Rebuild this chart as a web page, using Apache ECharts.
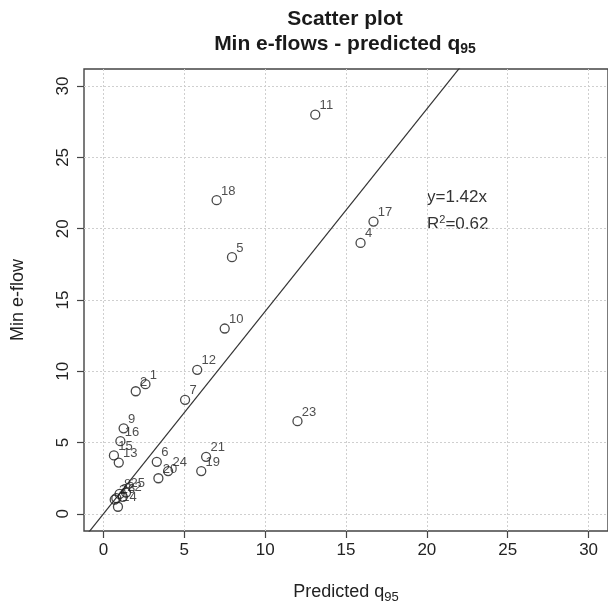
<!DOCTYPE html>
<html>
<head>
<meta charset="utf-8">
<title>Scatter plot</title>
<script src="https://cdn.jsdelivr.net/npm/echarts@6/dist/echarts.min.js"></script>
<style>
  html, body { margin: 0; padding: 0; background: #fff; }
  #chart { width: 608px; height: 611px; }
</style>
</head>
<body>
<div id="chart"></div>
<script>
// site numbers, predicted q95 (x) and min e-flow (y)
const siteIds = ['1', '2', '3', '4', '5', '6', '7', '8', '9', '10', '11', '12', '13',
  '14', '15', '16', '17', '18', '19', '20', '21', '22', '23', '24', '25', '26']
const predictedQ95 = [2.6, 2.0, 0.7, 15.9, 7.95, 3.3, 5.05, 1.0, 1.25, 7.5, 13.1, 5.8, 0.95,
  0.9, 0.65, 1.05, 16.7, 7.0, 6.05, 3.4, 6.35, 1.2, 12.0, 4.0, 1.4, 0.8]
const minEflow = [9.1, 8.6, 1.0, 19.0, 18.0, 3.65, 8.0, 1.4, 6.0, 13.0, 28.0, 10.1, 3.6,
  0.5, 4.1, 5.1, 20.5, 22.0, 3.0, 2.5, 4.0, 1.2, 6.5, 3.0, 1.5, 1.1]
const tickValues = [0, 5, 10, 15, 20, 25, 30]

// fitted line through the origin
const slope = 1.42
const rSquared = 0.62

const axisMin = -1.2
const axisMax = 31.2

const textColor = '#222'
const fontFamily = 'Liberation Sans, Arial, sans-serif'

const points = predictedQ95.map((x, i) => ({ value: [x, minEflow[i]], name: siteIds[i] }))
const fitLine = [[axisMin, slope * axisMin], [axisMax, slope * axisMax]]

const chart = echarts.init(document.getElementById('chart'))

function axisStyle(isY) {
  return {
    type: 'value',
    min: axisMin,
    max: axisMax,
    axisLine: { show: false, onZero: false },
    axisTick: {
      show: true,
      length: 7,
      customValues: tickValues,
      lineStyle: { color: '#444', width: 1.2 }
    },
    axisLabel: {
      customValues: tickValues,
      color: textColor,
      fontSize: 17,
      fontFamily: fontFamily,
      margin: isY ? 12 : 11,
      rotate: isY ? 90 : 0
    },
    splitLine: {
      show: true,
      lineStyle: { color: '#cfcfcf', type: [2, 2], width: 1 }
    }
  }
}

chart.setOption({
  backgroundColor: '#fff',
  animation: false,
  title: {
    text: '{t|Scatter plot}\n{t|Min e-flows - predicted q}{s|95}',
    left: 340,
    top: 2,
    textAlign: 'center',
    textStyle: {
      rich: {
        t: { fontSize: 21, fontWeight: 'bold', color: '#1a1a1a', fontFamily: fontFamily, lineHeight: 25, align: 'center' },
        s: { fontSize: 14, fontWeight: 'bold', color: '#1a1a1a', fontFamily: fontFamily, lineHeight: 25, padding: [10, 0, 0, 0] }
      }
    }
  },
  grid: {
    left: 84,
    top: 69,
    width: 526,
    height: 462,
    show: true,
    borderColor: '#444',
    borderWidth: 1.4,
    backgroundColor: 'transparent'
  },
  xAxis: Object.assign(axisStyle(false), {
    name: '{n|Predicted q}{s|95}',
    nameLocation: 'middle',
    nameGap: 50,
    nameTextStyle: {
      rich: {
        n: { fontSize: 18, color: textColor, fontFamily: fontFamily },
        s: { fontSize: 13, color: textColor, fontFamily: fontFamily, padding: [10, 0, 0, 0] }
      }
    }
  }),
  yAxis: Object.assign(axisStyle(true), {
    name: 'Min e-flow',
    nameLocation: 'middle',
    nameGap: 57,
    nameTextStyle: { fontSize: 18, color: textColor, fontFamily: fontFamily }
  }),
  graphic: [
    {
      type: 'text',
      left: 427,
      top: 189,
      style: { text: 'y=' + slope.toFixed(2) + 'x', fill: '#333', font: '17px ' + fontFamily }
    },
    {
      type: 'text',
      left: 427,
      top: 214,
      style: {
        text: '{n|R}{p|2}{n|=' + rSquared.toFixed(2) + '}',
        rich: {
          n: { fill: '#333', fontSize: 17, fontFamily: fontFamily },
          p: { fill: '#333', fontSize: 11, fontFamily: fontFamily, padding: [0, 0, 9, 0] }
        }
      }
    }
  ],
  series: [
    {
      type: 'line',
      data: fitLine,
      symbol: 'none',
      clip: true,
      silent: true,
      lineStyle: { color: '#333', width: 1.2 },
      z: 1
    },
    {
      type: 'scatter',
      data: points,
      symbol: 'circle',
      symbolSize: 9,
      itemStyle: { color: 'rgba(0,0,0,0)', borderColor: '#1a1a1a', borderWidth: 1.3 },
      label: {
        show: true,
        position: [9.5, -10.5],
        align: 'left',
        verticalAlign: 'top',
        formatter: '{b}',
        color: '#222',
        fontSize: 13,
        fontFamily: fontFamily
      },
      labelLayout: { hideOverlap: false },
      z: 3
    }
  ]
})
</script>
</body>
</html>
